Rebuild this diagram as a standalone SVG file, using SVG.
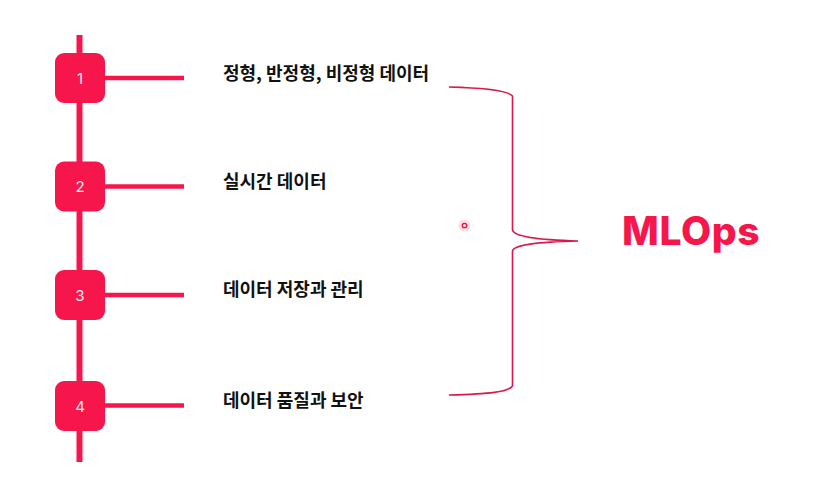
<svg xmlns="http://www.w3.org/2000/svg" width="824" height="480" viewBox="0 0 824 480">
  <style>
    .spine { stroke: #F7164B; stroke-width: 6; fill: none; }
    .arm { stroke: #F7164B; stroke-width: 4.5; fill: none; }
    .box { fill: #F7164B; }
    .num { font-family: "Inter", "Liberation Sans", sans-serif; font-size: 15px; fill: #FFE9EE; text-anchor: middle; }
    .label { font-family: "Noto Sans CJK KR", "Noto Sans", sans-serif; font-size: 18px; font-weight: 700; fill: #111111; }
    .brace { stroke: #D9194A; stroke-width: 1.6; fill: none; }
    .title { font-family: "Inter", "Liberation Sans", sans-serif; font-size: 39px; font-weight: 800; fill: #F7164B; letter-spacing: 0.6px; }
  </style>
  <rect width="824" height="480" fill="#FFFFFF"/>
  <g id="connectors">
    <line class="spine" x1="79.5" y1="35" x2="79.5" y2="462"/>
    <line class="arm" x1="100" y1="78" x2="184" y2="78"/>
    <line class="arm" x1="100" y1="186.5" x2="184" y2="186.5"/>
    <line class="arm" x1="100" y1="295" x2="184" y2="295"/>
    <line class="arm" x1="100" y1="405.5" x2="184" y2="405.5"/>
    <path class="brace" d="M449 87 C490 88 508 91 512.5 96 L512.5 230 C514 237 540 240 578 241 C540 242 514 244 512.5 251 L512.5 386 C508 392 490 394 449 395"/>
  </g>
  <g id="node1">
    <rect class="box" x="55" y="53" width="50" height="50" rx="9"/>
    <text class="num" x="80" y="83.5">1</text>
  </g>
  <g id="node2">
    <rect class="box" x="55" y="161.5" width="50" height="50" rx="9"/>
    <text class="num" x="80" y="192">2</text>
  </g>
  <g id="node3">
    <rect class="box" x="55" y="270" width="50" height="50" rx="9"/>
    <text class="num" x="80" y="300.5">3</text>
  </g>
  <g id="node4">
    <rect class="box" x="55" y="381" width="50" height="50" rx="9"/>
    <text class="num" x="80" y="411.5">4</text>
  </g>
  <g id="labels">
    <text class="label" x="223" y="80">정형, 반정형, 비정형 데이터</text>
    <text class="label" x="223" y="188">실시간 데이터</text>
    <text class="label" x="223" y="296">데이터 저장과 관리</text>
    <text class="label" x="223" y="407">데이터 품질과 보안</text>
  </g>
  <g id="mlops">
    <text class="title" x="622" y="245">MLOps</text>
  </g>
  <g id="cursor">
    <circle cx="464.5" cy="225.5" r="6" fill="#F7164B" opacity="0.15"/>
    <circle cx="464.5" cy="225.5" r="2.2" fill="none" stroke="#E8103E" stroke-width="1.3"/>
  </g>
</svg>
